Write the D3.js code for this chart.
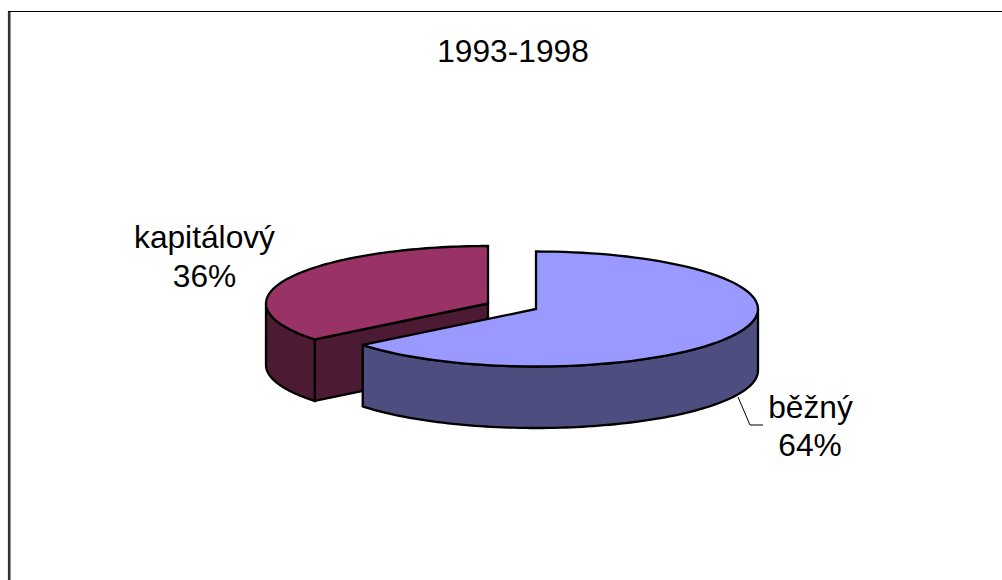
<!DOCTYPE html>
<html><head><meta charset="utf-8">
<script src="https://cdn.jsdelivr.net/npm/d3@7"></script>
<style>html,body{margin:0;padding:0;background:#fff}svg{display:block}text{font-family:"Liberation Sans",Arial,sans-serif;fill:#000}</style>
</head><body><svg id="c" width="1002" height="580"></svg>
<script>
const title = "1993-1998";
const categories = ["běžný", "kapitálový"];
const values = [64.25, 35.75];
const topColors = ["#9999ff", "#993366"];
const sideColors = ["#4d4d80", "#4d1a33"];

const svg = d3.select("#c");
const W = 1002, H = 580;
// frame
svg.append("line").attr("x1",9.2).attr("x2",9.2).attr("y1",11).attr("y2",H).attr("stroke","#333").attr("stroke-width",2.6);
svg.append("line").attr("x1",8).attr("x2",W).attr("y1",11.5).attr("y2",11.5).attr("stroke","#000").attr("stroke-width",1);

const arcs = d3.pie().sort(null)(values);
const rx = 222, ry = 57.5, depth = 61.5;
const centers = [{x:536,y:309},{x:488,y:303.5}];
const pt = (c,a,dy=0)=>[c.x+rx*Math.sin(a), c.y-ry*Math.cos(a)+dy];
const sample = (c,a0,a1,dy=0)=>d3.range(0,97).map(i=>pt(c,a0+(a1-a0)*i/96,dy));
const line = d3.line();
const strokeAttrs = s=>s.attr("stroke","#000").attr("stroke-width",2.3).attr("stroke-linejoin","miter");

function drawSlice(i){
  const c = centers[i], a = arcs[i], a0 = a.startAngle, a1 = a.endAngle;
  const g = svg.append("g");
  if(i===1){
    const p = pt(c,a0), q = [c.x,c.y];
    g.append("path").attr("d",line([p,q,[q[0],q[1]+depth],[p[0],p[1]+depth]])+"Z").attr("fill",sideColors[i]).call(strokeAttrs);
    const left = 1.5*Math.PI;
    const wall = sample(c,a0,left).concat(sample(c,left,a0,depth));
    g.append("path").attr("d",line(wall)+"Z").attr("fill",sideColors[i]).call(strokeAttrs);
  } else {
    const wall = sample(c,Math.PI/2,a1).concat(sample(c,a1,Math.PI/2,depth));
    g.append("path").attr("d",line(wall)+"Z").attr("fill",sideColors[i]).call(strokeAttrs);
  }
  const top = sample(c,a0,a1).concat([[c.x,c.y]]);
  g.append("path").attr("d",line(top)+"Z").attr("fill",topColors[i]).call(strokeAttrs);
}
drawSlice(1);
drawSlice(0);

// leader
svg.append("path").attr("d",line([[738,397],[750,425],[763,425]])).attr("fill","none").attr("stroke","#000").attr("stroke-width",1);

const fs = 31.7;
const label = (x,y,t)=>svg.append("text").attr("x",x).attr("y",y).attr("text-anchor","middle").attr("font-size",fs).text(t);
label(513,62,title);
label(204.5,248,categories[1]);
label(204.5,287,Math.round(values[1])+"%");
label(810.5,418,categories[0]);
label(810,456,Math.round(values[0])+"%");
</script></body></html>
